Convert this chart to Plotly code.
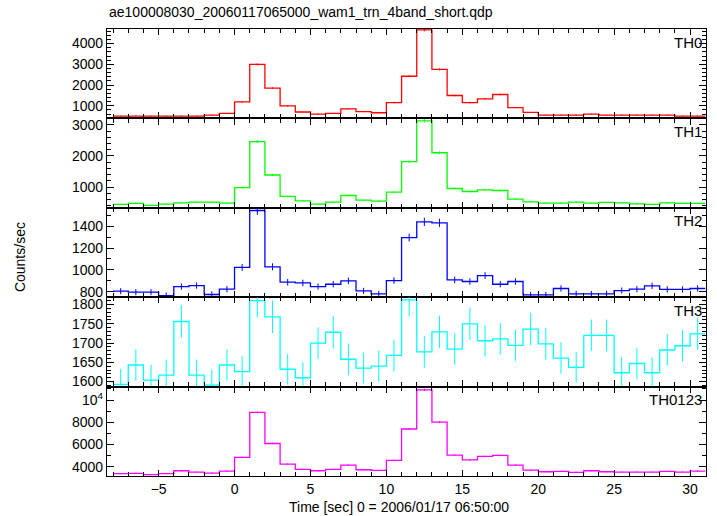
import plotly.graph_objects as go
from plotly.subplots import make_subplots

# bin start times [s], 1-s bins
bin_start = list(range(-8, 31))

th0 = [507, 507, 507, 507, 507, 507, 556, 634, 1190, 2995, 1854, 995, 702, 605, 634, 849, 717, 668, 1156, 2424,
       4654, 2751, 1498, 1156, 1336, 1546, 912, 683, 556, 556, 556, 605, 556, 556, 556, 556, 556, 507, 507]
th0_err = [23, 23, 23, 23, 23, 23, 24, 25, 35, 55, 43, 32, 27, 25, 25, 29, 27, 26, 34, 49,
           68, 52, 39, 34, 37, 39, 30, 26, 24, 24, 24, 25, 24, 24, 24, 24, 24, 23, 23]

th1 = [440, 472, 408, 450, 491, 514, 514, 482, 984, 2466, 1387, 696, 555, 450, 514, 728, 578, 546, 834, 1816,
       3130, 2104, 952, 856, 907, 888, 610, 523, 482, 482, 514, 482, 504, 491, 459, 440, 491, 472, 472]
th1_err = [21, 22, 20, 21, 22, 23, 23, 22, 31, 50, 37, 26, 24, 21, 23, 27, 24, 23, 29, 43,
           56, 46, 31, 29, 30, 30, 25, 23, 22, 22, 23, 22, 22, 22, 21, 21, 22, 22, 22]

th2 = [804, 795, 795, 764, 847, 856, 774, 823, 1022, 1545, 1028, 887, 880, 847, 868, 899, 807, 779, 902, 1297,
       1441, 1432, 908, 893, 948, 868, 893, 770, 770, 829, 779, 779, 779, 810, 823, 853, 820, 820, 829]
th2_err = [28, 28, 28, 28, 29, 29, 28, 29, 32, 39, 32, 30, 30, 29, 29, 30, 28, 28, 30, 36,
           38, 38, 30, 30, 31, 29, 30, 28, 28, 29, 28, 28, 28, 28, 29, 29, 29, 29, 29]

th3 = [1593, 1643, 1604, 1617, 1756, 1617, 1591, 1643, 1626, 1810, 1768, 1632, 1610, 1700, 1728, 1658, 1635, 1640, 1668, 1812,
       1677, 1729, 1684, 1750, 1706, 1711, 1694, 1736, 1698, 1661, 1637, 1720, 1720, 1623, 1647, 1623, 1682, 1693, 1724]
th3_err = [40, 41, 40, 40, 42, 40, 40, 41, 40, 43, 42, 40, 40, 41, 42, 41, 40, 41, 41, 43,
           41, 42, 41, 42, 41, 41, 41, 42, 41, 41, 40, 41, 41, 40, 41, 40, 41, 41, 42]

th0123 = [3375, 3411, 3286, 3375, 3643, 3527, 3437, 3616, 4839, 8884, 6089, 4241, 3768, 3643, 3768, 4152, 3732, 3679, 4571, 7393,
          10911, 8018, 5045, 4625, 4929, 5018, 4152, 3705, 3554, 3580, 3500, 3643, 3554, 3527, 3527, 3527, 3580, 3527, 3616]
th0123_err = [58, 58, 57, 58, 60, 59, 59, 60, 70, 94, 78, 65, 61, 60, 61, 64, 61, 61, 68, 86,
              104, 90, 71, 68, 70, 71, 64, 61, 60, 60, 59, 60, 60, 59, 59, 59, 60, 59, 60]

names = ["TH0", "TH1", "TH2", "TH3", "TH0123"]
colors = ["#ff0000", "#00ff00", "#0000ff", "#00ffff", "#ff00ff"]
series = [th0, th1, th2, th3, th0123]
errors = [th0_err, th1_err, th2_err, th3_err, th0123_err]
y_ranges = [[395, 4700], [331, 3211], [749, 1570], [1587, 1819], [3170, 11205]]
y_major = [1000, 1000, 200, 50, 2000]
y_minor = [200, 200, 100, 10, 1000]

title_text = "ae100008030_20060117065000_wam1_trn_4band_short.qdp"
x_title = "Time [sec] 0 = 2006/01/17 06:50:00"
y_title = "Counts/sec"

FONT = "Liberation Sans, Arial, sans-serif"

fig = make_subplots(rows=5, cols=1, shared_xaxes=True, vertical_spacing=0)

edges = bin_start + [bin_start[-1] + 1]
centers = [b + 0.5 for b in bin_start]

for i in range(5):
    vals = series[i]
    col = colors[i]
    fig.add_trace(go.Scatter(x=edges, y=vals + [vals[-1]], mode="lines",
                             line=dict(shape="hv", color=col, width=1.3),
                             hoverinfo="skip", showlegend=False), row=i + 1, col=1)
    fig.add_trace(go.Scatter(x=centers, y=vals, mode="markers",
                             marker=dict(size=1, color=col, opacity=0),
                             error_y=dict(type="data", array=errors[i], color=col, thickness=1, width=0),
                             showlegend=False), row=i + 1, col=1)
    fig.add_annotation(text=names[i], xref=f"x{i+1 if i else ''} domain", yref=f"y{i+1 if i else ''} domain",
                       x=0.997, y=0.97, xanchor="right", yanchor="top", showarrow=False,
                       font=dict(family=FONT, size=15, color="black"))

axis_common = dict(showline=True, linecolor="black", linewidth=1.3, mirror="allticks",
                   ticks="inside", tickcolor="black", tickwidth=1, showgrid=False, zeroline=False,
                   tickfont=dict(family=FONT, size=14, color="black"))

for i in range(5):
    fig.update_xaxes(range=[-8.4, 31.05], dtick=5, tick0=0, ticklen=6,
                     minor=dict(dtick=1, tick0=0, ticklen=4, ticks="inside", tickcolor="black"),
                     showticklabels=(i == 4), **axis_common, row=i + 1, col=1)
    yargs = dict(range=y_ranges[i], dtick=y_major[i], tick0=0, ticklen=7, tickformat="d",
                 minor=dict(dtick=y_minor[i], tick0=0, ticklen=4, ticks="inside", tickcolor="black"))
    if i == 4:
        yargs.update(tickmode="array", tickvals=[4000, 6000, 8000, 10000],
                     ticktext=["4000", "6000", "8000", "10<sup>4</sup>"])
    fig.update_yaxes(**yargs, **axis_common, row=i + 1, col=1)

fig.add_annotation(text=title_text, xref="paper", yref="paper", x=0, y=1.038,
                   xanchor="left", yanchor="middle", showarrow=False,
                   font=dict(family=FONT, size=14, color="black"))
fig.add_annotation(text=x_title, xref="paper", yref="paper", x=0.487, y=-0.069,
                   xanchor="center", yanchor="middle", showarrow=False,
                   font=dict(family=FONT, size=14, color="black"))
fig.add_annotation(text=y_title, xref="paper", yref="paper", x=-0.145, y=0.49,
                   xanchor="center", yanchor="middle", textangle=-90, showarrow=False,
                   font=dict(family=FONT, size=14, color="black"))

fig.update_layout(width=717, height=516, margin=dict(l=107, r=11, t=29, b=40),
                  paper_bgcolor="white", plot_bgcolor="white", showlegend=False,
                  font=dict(family=FONT, size=14, color="black"))

fig.write_html("out.html", config={"displayModeBar": False},
               post_script="document.body.style.margin='0';document.body.style.padding='0';")
